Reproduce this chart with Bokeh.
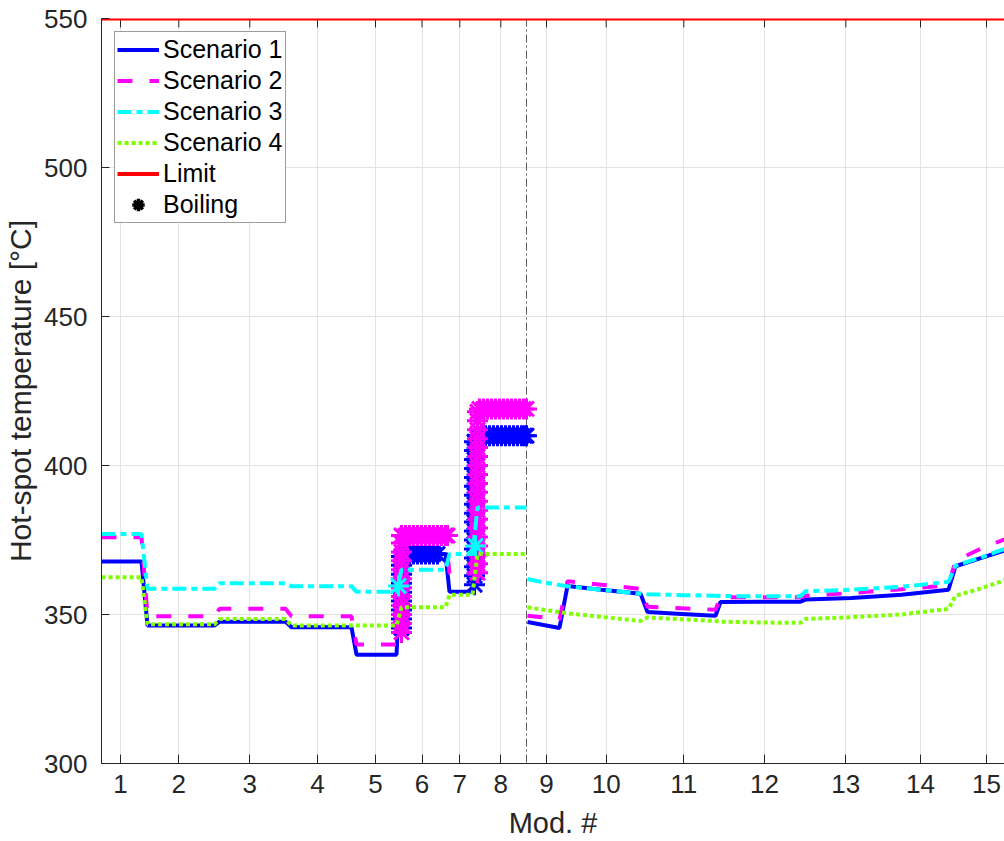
import numpy as np
from bokeh.plotting import figure
from bokeh.models import FixedTicker, Range1d, Span, Legend, LegendItem
from bokeh.embed import file_html
from bokeh.resources import INLINE

# ---------------- data (axial position z, arbitrary units; temperatures in °C) ----------------
z_start, z_end = 0, 903
mod_labels = ["1", "2", "3", "4", "5", "6", "7", "8", "9", "10", "11", "12", "13", "14", "15"]
mod_z = [19, 77.3, 148.3, 216, 274, 320.5, 358.3, 399.3, 445, 504.7, 582.3, 663, 744.3, 819, 885]
separator_z = 425
t_ticks = [300, 350, 400, 450, 500, 550]
limit_t = 550

# modules 1-8
z_left = [0, 40, 46, 113, 118, 184, 190, 250, 255, 295, 300, 344, 348, 371, 376, 425]
s1_left = [367.8, 367.8, 346.3, 346.3, 347.6, 347.6, 345.7, 345.7, 336.5, 336.5, 370.3, 370.3, 357.6, 357.6, 410.5, 410.5]
s2_left = [375.9, 375.9, 349.4, 349.4, 351.9, 351.9, 349.4, 349.4, 339.9, 339.9, 376.5, 376.5, 363.8, 363.8, 419.0, 419.0]
s3_left = [377.0, 377.0, 358.6, 358.6, 360.5, 360.5, 359.5, 359.5, 357.6, 357.6, 365.0, 365.0, 370.3, 370.3, 385.9, 385.9]
s4_left = [362.5, 362.5, 346.7, 346.7, 348.5, 348.5, 346.3, 346.3, 346.3, 346.3, 352.4, 352.4, 356.6, 356.6, 370.3, 370.3]

# modules 9-15
z_right = [426, 442, 458, 466, 500, 539, 546, 580, 614, 619, 660, 699, 704, 750, 800, 847, 854, 880, 903]
s1_right = [347.5, 346.5, 345.5, 359.6, 358.3, 357.0, 350.8, 350.2, 349.6, 354.2, 354.3, 354.3, 355.0, 355.5, 356.6, 358.3, 366.2, 369.0, 371.5]
s2_right = [349.6, 349.0, 348.3, 361.2, 360.0, 358.6, 352.6, 352.1, 351.6, 355.8, 355.8, 355.8, 356.3, 357.2, 358.5, 359.8, 368.0, 372.2, 375.2]
s3_right = [361.9, 360.8, 359.9, 359.5, 358.3, 357.0, 356.8, 356.5, 356.3, 356.2, 356.1, 356.1, 357.8, 358.3, 359.3, 361.0, 366.4, 369.2, 372.0]
s4_right = [352.4, 351.6, 350.8, 350.4, 349.2, 347.8, 349.0, 348.4, 347.8, 347.6, 347.3, 347.2, 348.5, 349.1, 350.0, 351.9, 356.3, 358.8, 361.5]

# boiling points
boil1_z = [300, 300, 300, 300, 300, 300, 300, 300, 300,
           304, 308, 312, 316, 320, 324, 328, 332, 336,
           373, 373, 373, 373, 373, 373, 373, 373, 373, 373, 373, 373, 373, 373, 373, 373, 373,
           376, 380, 384, 388, 392, 396, 400, 404, 408, 412, 416, 420, 423, 425]
boil1_t = [345.5, 348.5, 351.5, 354.5, 357.5, 360.5, 363.5, 366.5, 369.5,
           370.3, 370.3, 370.3, 370.3, 370.3, 370.3, 370.3, 370.3, 370.3,
           360.0, 363.0, 366.0, 369.0, 372.0, 375.0, 378.0, 381.0, 384.0, 387.0, 390.0, 393.0, 396.0, 399.0, 402.0, 405.0, 408.0,
           410.0, 410.0, 410.0, 410.0, 410.0, 410.0, 410.0, 410.0, 410.0, 410.0, 410.0, 410.0, 410.0, 410.0]
boil2_z = [300, 300, 300, 300, 300, 300, 300, 300, 300, 300, 300, 300,
           304, 308, 312, 316, 320, 324, 328, 332, 336, 340, 344, 346,
           376, 376, 376, 376, 376, 376, 376, 376, 376, 376, 376, 376, 376, 376, 376, 376, 376, 376, 376,
           378, 382, 386, 390, 394, 398, 402, 406, 410, 414, 418, 422, 425]
boil2_t = [344.0, 347.0, 350.0, 353.0, 356.0, 359.0, 362.0, 365.0, 368.0, 371.0, 374.0, 376.5,
           376.5, 376.5, 376.5, 376.5, 376.5, 376.5, 376.5, 376.5, 376.5, 376.5, 376.5, 376.5,
           364.0, 367.0, 370.0, 373.0, 376.0, 379.0, 382.0, 385.0, 388.0, 391.0, 394.0, 397.0, 400.0, 403.0, 406.0, 409.0, 412.0, 415.0, 418.0,
           419.0, 419.0, 419.0, 419.0, 419.0, 419.0, 419.0, 419.0, 419.0, 419.0, 419.0, 419.0, 419.0]
boil3_z = [297, 374]
boil3_t = [359.6, 373.0]

FONT = "Liberation Sans"
TXT = "#262626"


def join(a, b):
    return list(a) + [np.nan] + list(b)


z_all = join(z_left, z_right)
s1 = join(s1_left, s1_right)
s2 = join(s2_left, s2_right)
s3 = join(s3_left, s3_right)
s4 = join(s4_left, s4_right)

p = figure(width=1004, height=841, output_backend="svg", toolbar_location=None,
           x_range=Range1d(z_start, z_end), y_range=Range1d(t_ticks[0], t_ticks[-1]),
           min_border_left=101, min_border_right=0, min_border_top=18, min_border_bottom=76)
p.outline_line_color = None
p.background_fill_color = "white"
p.border_fill_color = "white"

p.xgrid.ticker = FixedTicker(ticks=mod_z)
p.ygrid.ticker = FixedTicker(ticks=t_ticks)
for g in (p.xgrid, p.ygrid):
    g.grid_line_color = "#e4e4e4"
    g.grid_line_width = 1

sep = Span(location=separator_z, dimension="height", line_color="#5a5a5a",
           line_dash="8 3 2 3", line_width=1, level="underlay")
p.add_layout(sep)

# tick marks along the top edge (inward), at the module positions
tick_len_t = 3.0
p.segment(x0=mod_z, x1=mod_z, y0=[t_ticks[-1]] * len(mod_z),
          y1=[t_ticks[-1] - tick_len_t] * len(mod_z), line_color=TXT, line_width=1)

blue, magenta, cyan, green = "#0000ff", "#ff00ff", "#00ffff", "#80ff00"
STAR = 21

r1 = p.line(z_all, s1, line_color=blue, line_width=4)
p.scatter(boil1_z, boil1_t, marker="asterisk", size=STAR, line_color=blue, line_width=3)
r2 = p.line(z_all, s2, line_color=magenta, line_width=4, line_dash="15 17")
p.scatter(boil2_z, boil2_t, marker="asterisk", size=STAR, line_color=magenta, line_width=3)
r3 = p.line(z_all, s3, line_color=cyan, line_width=4, line_dash="14 5 6 5")
p.scatter(boil3_z, boil3_t, marker="asterisk", size=STAR, line_color=cyan, line_width=3)
r4 = p.line(z_all, s4, line_color=green, line_width=4, line_dash="4 3")
r5 = p.line([z_start, z_end], [limit_t, limit_t], line_color="#ff0000", line_width=4)
r6 = p.scatter([np.nan], [np.nan], marker="asterisk", line_color="black", line_width=3.5)

# axes
xa = p.xaxis[0]
xa.ticker = FixedTicker(ticks=mod_z)
xa.major_label_overrides = {z: lab for z, lab in zip(mod_z, mod_labels)}
xa.axis_label = "Mod. #"
ya = p.yaxis[0]
ya.ticker = FixedTicker(ticks=t_ticks)
ya.axis_label = "Hot-spot temperature [°C]"
for ax, tin in ((xa, 9), (ya, 8)):
    ax.major_tick_in = tin
    ax.major_tick_out = 0
    ax.minor_tick_line_color = None
    ax.axis_line_color = TXT
    ax.major_tick_line_color = TXT
    ax.major_label_text_font = FONT
    ax.major_label_text_font_size = "26px"
    ax.major_label_text_color = TXT
    ax.axis_label_text_font = FONT
    ax.axis_label_text_font_style = "normal"
    ax.axis_label_text_color = TXT
xa.axis_label_text_font_size = "29px"
ya.axis_label_text_font_size = "30px"
xa.major_label_standoff = 11
xa.axis_label_standoff = 11
ya.major_label_standoff = 14
ya.axis_label_standoff = 4

legend = Legend(items=[
    LegendItem(label="Scenario 1", renderers=[r1]),
    LegendItem(label="Scenario 2", renderers=[r2]),
    LegendItem(label="Scenario 3", renderers=[r3]),
    LegendItem(label="Scenario 4", renderers=[r4]),
    LegendItem(label="Limit", renderers=[r5]),
    LegendItem(label="Boiling", renderers=[r6]),
], location="top_left")
legend.label_text_font = FONT
legend.label_text_font_size = "25px"
legend.label_text_color = "black"
legend.glyph_width = 42
legend.glyph_height = 31
legend.label_height = 31
legend.spacing = 0
legend.padding = 2
legend.margin = 13
legend.label_standoff = 4
legend.border_line_color = "#3a3a3a"
legend.border_line_width = 1
legend.background_fill_alpha = 1
p.add_layout(legend)

open("out.html", "w").write(file_html(p, INLINE))
